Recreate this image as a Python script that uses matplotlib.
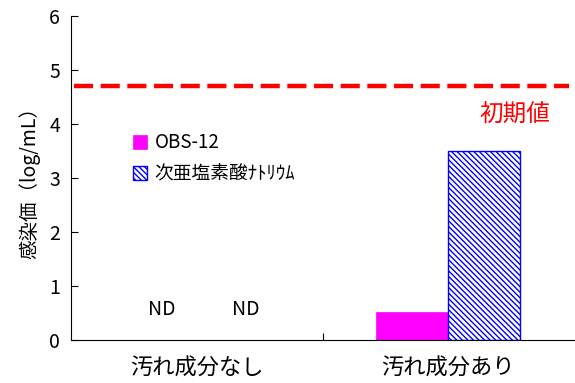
import numpy as np
import matplotlib
matplotlib.use('Agg')
import matplotlib.pyplot as plt

plt.rcParams['font.family'] = ['Noto Sans CJK JP', 'DejaVu Sans']
plt.rcParams['hatch.color'] = 'blue'
plt.rcParams['hatch.linewidth'] = 1.0

categories = ['汚れ成分なし', '汚れ成分あり']
series_names = ['OBS-12', '次亜塩素酸ﾅﾄﾘｳﾑ']
obs12 = [0.0, 0.52]
hypo = [0.0, 3.5]
initial_value = 4.7
nd_labels = ['ND', 'ND']

fig = plt.figure(figsize=(5.75, 3.83), dpi=100)
ax = fig.add_axes([0.1235, 0.112, 0.875, 0.846])

x = np.arange(len(categories))
w = 0.286
ax.bar(x - w/2, obs12, w, color='#ff00ff', edgecolor='#ff00ff', lw=0.5, label=series_names[0])
edges = ['none' if v == 0 else 'blue' for v in hypo]
ax.bar(x + w/2, hypo, w, color='white', edgecolor=edges, hatch='\\\\\\\\\\\\',
       lw=1.0, label=series_names[1])

ax.axhline(initial_value, xmin=0.006, xmax=0.99, color='red', lw=3.2, dashes=(4.3, 1.7))
ax.text(1.266, 4.17, '初期値', color='red', fontsize=17, ha='center', va='center')

ax.text(0 - 0.14, 0.56, nd_labels[0], ha='center', va='center', fontsize=14)
ax.text(0 + 0.195, 0.56, nd_labels[1], ha='center', va='center', fontsize=14)

ax.set_xlim(-0.5, 1.5)
ax.set_ylim(0, 6)
ax.set_yticks(range(0, 7))
ax.set_xticks([0.5])
ax.set_xticklabels([''])
ax.tick_params(axis='both', direction='in', length=5, labelsize=14, pad=8)
for i, c in enumerate(categories):
    ax.text(x[i], -0.52, c, ha='center', va='center', fontsize=16)

ax.spines['top'].set_visible(False)
ax.spines['right'].set_visible(False)
ax.set_ylabel('感染価（log/mL）', fontsize=14, labelpad=6)

leg = ax.legend(loc='upper left', bbox_to_anchor=(0.105, 0.67), frameon=False, fontsize=13.5,
                handlelength=0.75, handleheight=0.75, handletextpad=0.4, labelspacing=0.55,
                borderpad=0)
leg.legend_handles[1].set_edgecolor('blue')

fig.savefig('out.png', dpi=100)
